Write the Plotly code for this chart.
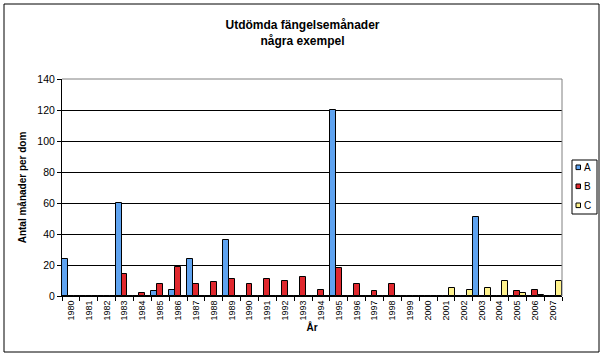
import plotly.graph_objects as go

years = [str(y) for y in range(1980, 2008)]
series_a = [24, 0, 0, 60, 0, 3, 4, 24, 0, 36, 0, 0, 0, 0, 0, 120, 0, 0, 0, 0, 0, 0, 0, 51, 0, 0, 0, 0]
series_b = [0, 0, 0, 14, 2, 8, 19, 8, 9, 11, 8, 11, 10, 12, 4, 18, 8, 3, 8, 0, 0, 0, 0, 0, 0, 3, 4, 0]
series_c = [0, 0, 0, 0, 0, 0, 0, 0, 0, 0, 0, 0, 0, 0, 0, 0, 0, 0, 0, 0, 0, 5, 4, 5, 10, 2, 0.7, 10]
series_names = ["A", "B", "C"]
colors = ["#5FA3F0", "#E0282E", "#FFF28C"]

W, H = 605, 358
L, R, T, B = 62, 43, 79, 62
PW, PH = W - L - R, H - T - B

def px(x):
    return (x - L) / PW

def py(y):
    return (H - B - y) / PH

FONT = "Arial, Liberation Sans, sans-serif"

fig = go.Figure()
for name, vals, col in zip(series_names, [series_a, series_b, series_c], colors):
    fig.add_trace(go.Bar(
        x=years, y=vals, name=name,
        marker=dict(color=col, line=dict(color="black", width=1)),
    ))

shapes = [
    # outer chart frame
    dict(type="rect", xref="paper", yref="paper", x0=px(4), x1=px(599), y0=py(352), y1=py(4),
         line=dict(color="black", width=1), layer="below"),
    # plot area top and right borders (grey)
    dict(type="line", xref="paper", yref="paper", x0=0, x1=1, y0=1, y1=1,
         line=dict(color="#808080", width=1), layer="above"),
    dict(type="line", xref="paper", yref="paper", x0=1, x1=1, y0=0, y1=1,
         line=dict(color="#808080", width=1), layer="above"),
    # legend box
    dict(type="rect", xref="paper", yref="paper", x0=px(572), x1=px(597), y0=py(214), y1=py(160),
         line=dict(color="black", width=1), fillcolor="white"),
]
annotations = []
for i, (name, col) in enumerate(zip(series_names, colors)):
    cy = 167.3 + i * 19
    shapes.append(dict(type="rect", xref="paper", yref="paper", x0=px(576), x1=px(580.5),
                       y0=py(cy + 2.3), y1=py(cy - 2.3),
                       line=dict(color="black", width=1), fillcolor=col))
    annotations.append(dict(xref="paper", yref="paper", x=px(581.5), y=py(cy), text=name,
                            showarrow=False, xanchor="left", yanchor="middle",
                            font=dict(family=FONT, size=10, color="black")))

fig.update_layout(
    width=W, height=H,
    margin=dict(l=L, r=R, t=T, b=B, autoexpand=False),
    paper_bgcolor="white", plot_bgcolor="white",
    barmode="group", bargap=0, bargroupgap=0,
    showlegend=False,
    title=dict(text="<b>Utdömda fängelsemånader<br>några exempel</b>",
               xref="container", x=0.5, xanchor="center",
               yref="container", y=1 - 29 / H, yanchor="middle",
               font=dict(family=FONT, size=12, color="black")),
    shapes=shapes,
    annotations=annotations,
    font=dict(family=FONT, color="black"),
)
fig.update_xaxes(
    type="category", categoryorder="array", categoryarray=years,
    range=[-0.5, len(years) - 0.5],
    tickson="boundaries", ticks="outside", ticklen=4, tickcolor="black",
    tickangle=-90, tickfont=dict(family=FONT, size=9, color="black"),
    showline=True, linecolor="black", linewidth=1, showgrid=False,
    title=dict(text="<b>År</b>", font=dict(family=FONT, size=10, color="black"), standoff=0),
    automargin=False,
)
fig.update_yaxes(
    range=[0, 140], dtick=20, tick0=0,
    ticks="outside", ticklen=4, tickcolor="black",
    tickfont=dict(family=FONT, size=10.5, color="black"),
    showline=True, linecolor="black", linewidth=1,
    showgrid=True, gridcolor="black", gridwidth=1, zeroline=False,
    title=dict(text="<b>Antal månader per dom</b>", font=dict(family=FONT, size=10, color="black"), standoff=8),
    automargin=False,
)

fig.write_html("out.html",
               config=dict(displayModeBar=False),
               post_script="document.body.style.margin='0';document.body.style.padding='0';document.body.style.overflow='hidden';")
